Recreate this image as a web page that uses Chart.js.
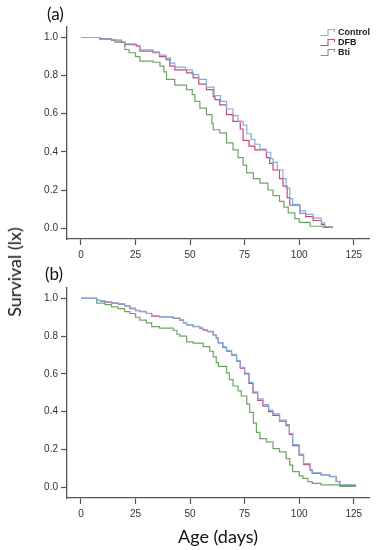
<!DOCTYPE html>
<html>
<head>
<meta charset="utf-8">
<script src="https://cdn.jsdelivr.net/npm/chart.js@4"></script>
<style>
  body { margin: 0; background: #fff; width: 376px; height: 550px; position: relative; overflow: hidden; font-family: Lato, "Open Sans", sans-serif; }
  canvas { position: absolute; left: 0; }
  #chartA { top: 0; }
  #chartB { top: 260px; }
  .panel { position: absolute; font-size: 17px; color: #111; }
  #ytitle { position: absolute; left: 14px; top: 272px; transform: translate(-50%, -50%) rotate(-90deg); font-size: 18px; white-space: nowrap; color: #111; }
  #legend { position: absolute; left: 320px; top: 27px; font: bold 9px "Liberation Sans", Arial, sans-serif; color: #222; }
  #legend div { height: 10px; line-height: 10px; display: flex; align-items: center; }
  #legend svg { margin-right: 2px; }
</style>
</head>
<body>
<canvas id="chartA" width="376" height="270"></canvas>
<canvas id="chartB" width="376" height="290"></canvas>
<div class="panel" style="left:47px;top:3px">(a)</div>
<div class="panel" style="left:45px;top:263px">(b)</div>
<div id="ytitle">Survival (lx)</div>
<div id="legend"></div>
<script>
// tick labels
const xTicks = [0, 25, 50, 75, 100, 125];
const yTicks = [0, 0.2, 0.4, 0.6, 0.8, 1.0];
const seriesNames = ["Control", "DFB", "Bti"];
const seriesColors = ["#86acd8", "rgba(196,45,95,0.88)", "#6da565"];

// panel (a)
const ctrlA_days = [0, 8.7, 14, 16, 20, 25, 27, 33, 36, 39, 41, 43, 48, 51, 54, 57.5, 61, 64, 66.7, 69.7, 72, 74.3, 76, 78, 79.7, 82, 85, 87, 88, 90, 92.6, 94, 95.7, 97, 100.3, 103, 106.4, 110.2, 111.7, 115.5];
const ctrlA_surv = [1.0, 0.993, 0.987, 0.977, 0.967, 0.957, 0.935, 0.925, 0.908, 0.893, 0.865, 0.845, 0.83, 0.805, 0.78, 0.74, 0.695, 0.665, 0.625, 0.59, 0.56, 0.54, 0.495, 0.465, 0.44, 0.415, 0.398, 0.365, 0.345, 0.305, 0.26, 0.21, 0.155, 0.125, 0.09, 0.072, 0.052, 0.028, 0.006, 0.006];
const dfbA_days = [0, 8.7, 14, 15.6, 20, 25.5, 27, 33, 36, 39, 40.7, 43, 48.4, 51.4, 54, 57.5, 60.6, 61.4, 63.6, 66.7, 69.7, 73, 74.3, 77, 79.7, 85, 86.5, 88, 91, 92.6, 94.5, 95.7, 100.3, 103, 106.4, 110.2, 111.7, 115.5];
const dfbA_surv = [1.0, 0.993, 0.986, 0.975, 0.963, 0.954, 0.928, 0.92, 0.9, 0.884, 0.85, 0.83, 0.814, 0.788, 0.755, 0.726, 0.69, 0.674, 0.647, 0.595, 0.56, 0.52, 0.46, 0.43, 0.41, 0.37, 0.34, 0.305, 0.26, 0.22, 0.16, 0.12, 0.078, 0.06, 0.04, 0.02, 0.005, 0.005];
const btiA_days = [0, 8.7, 14, 18.6, 20.1, 22, 25, 27, 33, 36.2, 38, 39.2, 43, 48.4, 51, 52.2, 54.5, 57.5, 60, 60.6, 63.6, 66.7, 69.7, 72, 74.3, 75.9, 79, 82, 85.7, 88, 91, 93, 95, 98, 100, 105, 111, 115.5];
const btiA_surv = [1.0, 0.993, 0.986, 0.976, 0.937, 0.92, 0.9, 0.876, 0.87, 0.85, 0.82, 0.78, 0.75, 0.726, 0.7, 0.665, 0.63, 0.595, 0.55, 0.516, 0.5, 0.447, 0.41, 0.37, 0.33, 0.29, 0.26, 0.236, 0.2, 0.17, 0.14, 0.11, 0.08, 0.05, 0.03, 0.01, 0.004, 0.004];

// panel (b)
const ctrlB_days = [0, 7.2, 9, 11, 14, 17, 20, 22.4, 25, 27, 30, 32.4, 36, 42.3, 45.3, 47, 48.4, 51.4, 54.5, 56, 58, 60.6, 62, 62.9, 65, 66.7, 69, 71.3, 73, 75, 77, 78.8, 81, 83.4, 86, 88, 91, 94, 95.5, 97, 100, 102, 105, 106, 110, 114, 117, 118.6, 126];
const ctrlB_surv = [1.0, 0.99, 0.986, 0.981, 0.976, 0.971, 0.961, 0.948, 0.937, 0.931, 0.921, 0.908, 0.903, 0.895, 0.887, 0.872, 0.861, 0.852, 0.843, 0.834, 0.826, 0.808, 0.792, 0.766, 0.744, 0.724, 0.704, 0.672, 0.635, 0.605, 0.555, 0.505, 0.468, 0.437, 0.408, 0.388, 0.356, 0.332, 0.285, 0.226, 0.175, 0.125, 0.094, 0.076, 0.067, 0.058, 0.031, 0.012, 0.012];
const dfbB_days = [0, 7.2, 9, 11, 14, 17, 20, 22.4, 25, 27, 30, 32.4, 36, 42.3, 45.3, 47, 48.4, 51.4, 54.5, 56, 58, 60.6, 62, 62.9, 65, 66.7, 69, 71.3, 73, 75, 77, 78.8, 81, 83.4, 86, 88, 91, 94, 95.5, 97, 100, 102, 105, 106, 110, 114, 117, 118.6, 126];
const dfbB_surv = [1.0, 0.99, 0.985, 0.98, 0.975, 0.97, 0.96, 0.946, 0.935, 0.93, 0.92, 0.906, 0.902, 0.894, 0.885, 0.87, 0.859, 0.85, 0.841, 0.832, 0.824, 0.806, 0.79, 0.764, 0.74, 0.72, 0.7, 0.667, 0.63, 0.6, 0.55, 0.5, 0.46, 0.43, 0.4, 0.38, 0.35, 0.326, 0.28, 0.22, 0.17, 0.12, 0.09, 0.073, 0.065, 0.056, 0.03, 0.01, 0.01];
const btiB_days = [0, 7.2, 11, 14, 17, 20, 22.4, 25, 27, 30, 32.4, 36, 42.3, 44, 45.3, 48.4, 51.4, 56, 59, 60.6, 62, 63, 66.7, 68, 69.7, 72, 73.5, 76, 77.3, 79, 80.4, 82, 85, 88, 91, 94, 95.7, 97, 100, 101.7, 104, 106, 110, 118.6, 126];
const btiB_surv = [1.0, 0.975, 0.967, 0.955, 0.946, 0.93, 0.92, 0.9, 0.885, 0.87, 0.85, 0.843, 0.83, 0.81, 0.8, 0.77, 0.763, 0.745, 0.72, 0.69, 0.66, 0.64, 0.606, 0.57, 0.536, 0.51, 0.483, 0.44, 0.396, 0.34, 0.29, 0.257, 0.24, 0.204, 0.187, 0.152, 0.117, 0.083, 0.06, 0.047, 0.03, 0.02, 0.012, 0.005, 0.005];

function toPoints(days, surv) {
  return days.map((d, i) => ({ x: d, y: surv[i] }));
}

function makeDatasets(list) {
  return list.map((s, i) => ({
    label: seriesNames[i],
    data: toPoints(s[0], s[1]),
    borderColor: seriesColors[i],
    borderWidth: 1.2,
    pointRadius: 0,
    stepped: 'before',
    fill: false,
  }));
}

function makeChart(id, datasets, padTop, xHeight, withTitle) {
  const tickFont = { family: '"Liberation Sans", Arial, sans-serif', size: 10 };
  return new Chart(document.getElementById(id), {
    type: 'line',
    data: { datasets: datasets },
    options: {
      responsive: false,
      animation: false,
      layout: { padding: { top: padTop, right: 7, left: 0, bottom: 0 } },
      plugins: { legend: { display: false }, tooltip: { enabled: false } },
      scales: {
        x: {
          type: 'linear',
          min: -6.4,
          max: 132,
          afterBuildTicks: s => { s.ticks = xTicks.map(v => ({ value: v })); },
          afterFit: s => { s.height = xHeight; },
          ticks: { font: tickFont, color: '#333', padding: 4, maxRotation: 0 },
          grid: { drawOnChartArea: false, tickLength: 6, tickColor: '#555', tickWidth: 1.2 },
          border: { display: true, color: '#555', width: 1.3 },
          title: {
            display: withTitle,
            text: 'Age (days)',
            font: { family: 'Lato, "Open Sans", sans-serif', size: 18 },
            color: '#111',
            padding: { top: 0, bottom: 2 },
          },
        },
        y: {
          min: -0.057,
          max: 1.055,
          afterBuildTicks: s => { s.ticks = yTicks.map(v => ({ value: v })); },
          afterFit: s => { s.width = 67; },
          ticks: { font: tickFont, color: '#333', padding: 3, callback: v => v.toFixed(1) },
          grid: { drawOnChartArea: false, tickLength: 6, tickColor: '#555', tickWidth: 1.2 },
          border: { display: true, color: '#555', width: 1.3 },
        },
      },
    },
  });
}

makeChart('chartA', makeDatasets([[ctrlA_days, ctrlA_surv], [dfbA_days, dfbA_surv], [btiA_days, btiA_surv]]), 27, 31, false);
makeChart('chartB', makeDatasets([[ctrlB_days, ctrlB_surv], [dfbB_days, dfbB_surv], [btiB_days, btiB_surv]]), 28, 52, true);

// legend with little step icons
const legend = document.getElementById('legend');
seriesNames.forEach((name, i) => {
  const row = document.createElement('div');
  row.innerHTML = '<svg width="16" height="9"><path d="M0.5 7.5 H8 V1.5 H14.5 V4" fill="none" stroke="' +
    seriesColors[i] + '" stroke-width="1.1"/></svg>';
  row.appendChild(document.createTextNode(name));
  legend.appendChild(row);
});
</script>
</body>
</html>
